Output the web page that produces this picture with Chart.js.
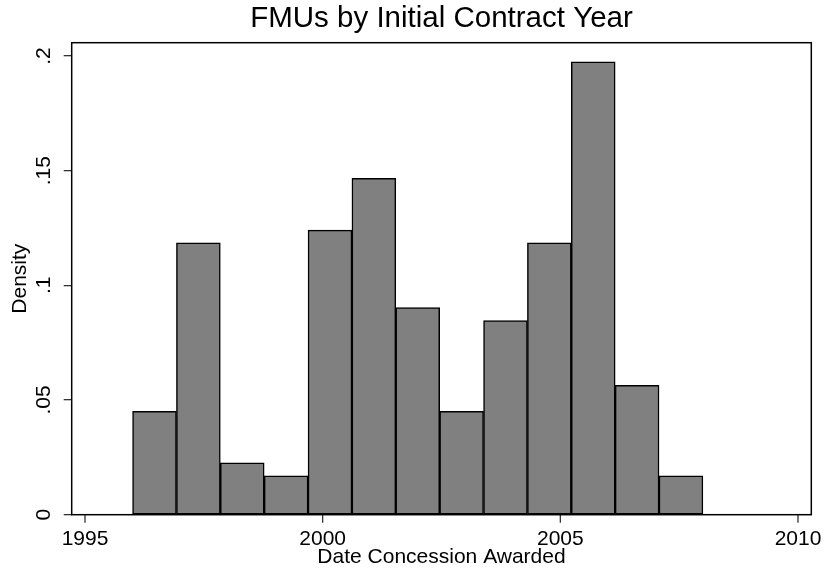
<!DOCTYPE html>
<html>
<head>
<meta charset="utf-8">
<script src="https://cdn.jsdelivr.net/npm/chart.js@4"></script>
<style>
  html, body { margin: 0; padding: 0; background: #fff; }
  #wrap { width: 826px; height: 577px; }
</style>
</head>
<body>
<div id="wrap"><canvas id="histChart" width="826" height="577"></canvas></div>
<script>
// histogram bins (centre of each bin, in years) and their densities
const binCenters = [1996.462, 1997.385, 1998.308, 1999.231, 2000.154, 2001.077, 2002.000,
                    2002.923, 2003.846, 2004.769, 2005.692, 2006.615, 2007.538];
const density = [0.0451, 0.1185, 0.0226, 0.0169, 0.1241, 0.1467, 0.0903,
                 0.0451, 0.0846, 0.1185, 0.1975, 0.0564, 0.0169];

const xTicks = [1995, 2000, 2005, 2010];
const yTicks = [0, 0.05, 0.1, 0.15, 0.2];
const yTickLabels = ['0', '.05', '.1', '.15', '.2'];

const FONT = "'Liberation Sans', Arial, Helvetica, sans-serif";

// box around the plot region, plus the short tick marks under the x axis
const plotFrame = {
  id: 'plotFrame',
  afterDraw(chart) {
    const a = chart.chartArea;
    const ctx = chart.ctx;
    const xs = chart.scales.x;
    ctx.save();
    ctx.strokeStyle = '#333';
    ctx.lineWidth = 1.3;
    ctx.beginPath();
    xTicks.forEach(v => {
      const px = xs.getPixelForValue(v);
      ctx.moveTo(px, a.bottom);
      ctx.lineTo(px, a.bottom + 8);
    });
    ctx.stroke();
    ctx.strokeStyle = '#000';
    ctx.lineWidth = 1.5;
    ctx.strokeRect(a.left, a.top, a.right - a.left, a.bottom - a.top);
    ctx.restore();
  }
};

function chart1(){
  const data = {
    datasets: [{
      data: binCenters.map((x, i) => ({x: x, y: density[i]})),
      backgroundColor: '#808080',
      borderColor: '#000',
      borderWidth: 1.5,
      borderSkipped: false,
      barPercentage: 1,
      categoryPercentage: 1
    }]
  };

  const config = {
    type: 'bar',
    data: data,
    plugins: [plotFrame],
    options: {
      responsive: false,
      animation: false,
      layout: { padding: { left: 0, right: 14.7, top: 0, bottom: 0 } },
      plugins: {
        legend: { display: false },
        tooltip: { enabled: false },
        title: {
          display: true,
          text: 'FMUs by Initial Contract Year',
          color: '#000',
          fullSize: false,
          font: { family: FONT, size: 29.5, weight: 'normal' },
          padding: { top: 1, bottom: 6.3 }
        }
      },
      scales: {
        x: {
          type: 'linear',
          offset: false,
          min: 1994.72,
          max: 2010.28,
          afterBuildTicks: s => { s.ticks = xTicks.map(v => ({value: v})); },
          afterFit: s => { s.height = 62.3; },
          border: { display: false },
          grid: { display: false, offset: false, tickLength: 8 },
          ticks: {
            color: '#000',
            padding: 3.5,
            maxRotation: 0,
            font: { family: FONT, size: 21 },
            callback: v => String(v)
          },
          title: {
            display: true,
            text: 'Date Concession Awarded',
            color: '#000',
            font: { family: FONT, size: 21 },
            padding: { top: 0, bottom: 7.5 }
          }
        },
        y: {
          min: 0,
          max: 0.2058,
          afterBuildTicks: s => { s.ticks = yTicks.map(v => ({value: v})); },
          afterFit: s => { s.width = 71.7; },
          border: { display: false },
          grid: { drawOnChartArea: false, tickLength: 8, tickColor: '#333', tickWidth: 1.3, color: '#333', lineWidth: 1.3 },
          ticks: {
            color: '#000',
            minRotation: 90,
            maxRotation: 90,
            crossAlign: 'center',
            padding: 4.5,
            font: { family: FONT, size: 21 },
            callback: (v, i) => yTickLabels[i]
          },
          title: {
            display: true,
            text: 'Density',
            color: '#000',
            font: { family: FONT, size: 21 },
            padding: { top: 7.5, bottom: 0 }
          }
        }
      }
    }
  };

  const myChart = new Chart(
    document.getElementById('histChart'),
    config
  );
}

chart1();
</script>
</body>
</html>
